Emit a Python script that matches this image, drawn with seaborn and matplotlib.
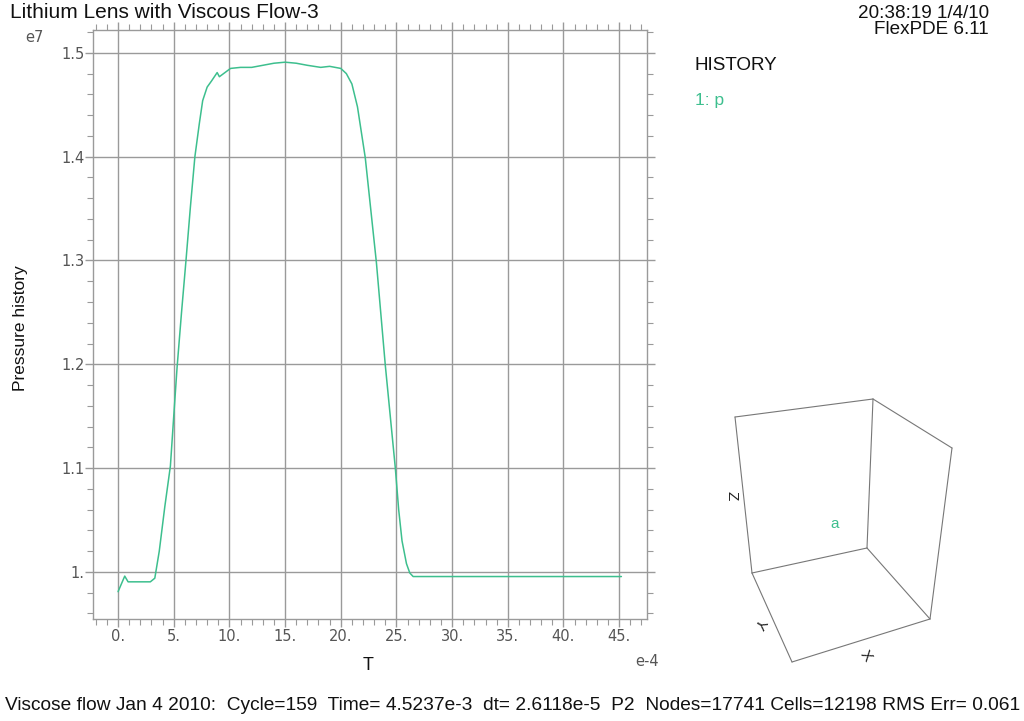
import numpy as np
import pandas as pd
import matplotlib
matplotlib.use("Agg")
import matplotlib.pyplot as plt
import seaborn as sns

# ---- data (T in units of 1e-4, p in units of 1e7) ----
t_vals = [0.0, 0.6, 0.9, 2.9, 3.3, 3.7, 4.2, 4.7, 5.0, 5.3, 5.7, 6.1, 6.5, 6.9,
          7.3, 7.6, 8.0, 8.4, 8.9, 9.1, 9.6, 10.1, 11.0, 12.0, 13.0, 14.0, 15.0,
          16.0, 17.0, 18.2, 19.0, 20.0, 20.5, 21.0, 21.5, 21.9, 22.2, 23.2, 24.0,
          24.9, 25.2, 25.5, 25.9, 26.2, 26.5, 30.0, 35.0, 40.0, 45.2]
p_vals = [0.981, 0.996, 0.9905, 0.9905, 0.994, 1.020, 1.063, 1.102, 1.150, 1.197,
          1.250, 1.300, 1.352, 1.400, 1.432, 1.454, 1.467, 1.473, 1.481, 1.477,
          1.481, 1.485, 1.486, 1.486, 1.488, 1.490, 1.491, 1.490, 1.488, 1.486,
          1.487, 1.485, 1.480, 1.470, 1.448, 1.420, 1.399, 1.298, 1.199, 1.100,
          1.060, 1.030, 1.008, 0.999, 0.9956, 0.9956, 0.9956, 0.9956, 0.9956]
x_ticks = [0, 5, 10, 15, 20, 25, 30, 35, 40, 45]
x_tick_labels = ["0.", "5.", "10.", "15.", "20.", "25.", "30.", "35.", "40.", "45."]
y_ticks = [1.0, 1.1, 1.2, 1.3, 1.4, 1.5]
y_tick_labels = ["1.", "1.1", "1.2", "1.3", "1.4", "1.5"]

title = "Lithium Lens with Viscous Flow-3"
footer = ("Viscose flow Jan 4 2010:  Cycle=159  Time= 4.5237e-3  dt= 2.6118e-5  P2  "
          "Nodes=17741 Cells=12198 RMS Err= 0.061")

# decorative 3D orientation box (figure pixel coordinates)
box_pts = {"A": (735, 417), "B": (873, 399), "C": (952, 448), "D": (752, 573),
           "E": (867, 548), "F": (930, 619), "G": (792, 662)}
box_edges = [("A", "B"), ("B", "C"), ("A", "D"), ("B", "E"), ("C", "F"),
             ("D", "E"), ("E", "F"), ("D", "G"), ("G", "F")]

GREEN = "#3dbf8e"
GRID = "#9a9a9a"

sns.set_style("white")
plt.rcParams["font.family"] = ["Liberation Sans", "DejaVu Sans"]

W, H = 1024, 721
fig = plt.figure(figsize=(W / 100, H / 100), dpi=100)
fig.patch.set_facecolor("white")

L, R, T, B = 93, 647, 30, 619
ax = fig.add_axes([L / W, 1 - B / H, (R - L) / W, (B - T) / H])

df = pd.DataFrame({"T": t_vals, "p": p_vals})
sns.lineplot(data=df, x="T", y="p", ax=ax, color=GREEN, linewidth=1.1,
             sort=False, estimator=None, zorder=3)

ax.set_xlim(-2.25, 47.5)
ax.set_ylim(0.9547, 1.522)
ax.set_xticks(x_ticks)
ax.set_xticklabels(x_tick_labels)
ax.set_yticks(y_ticks)
ax.set_yticklabels(y_tick_labels)
ax.set_xticks(np.arange(-2, 48, 1), minor=True)
ax.set_yticks(np.arange(0.96, 1.52, 0.02), minor=True)
ax.grid(True, which="major", color=GRID, linewidth=1.0)
ax.set_axisbelow(True)
for s in ax.spines.values():
    s.set_color(GRID)
    s.set_linewidth(1.0)
ax.tick_params(which="both", direction="out", color=GRID, top=True, right=True,
               bottom=True, left=True)
ax.tick_params(which="major", length=6, width=1.0)
ax.tick_params(which="minor", length=4, width=0.8)
ax.tick_params(axis="x", which="major", pad=1)
ax.tick_params(axis="y", which="major", pad=0)
for lab in ax.get_xticklabels() + ax.get_yticklabels():
    lab.set_fontfamily("DejaVu Sans")
    lab.set_fontsize(10.5)
    lab.set_color("#555555")
ax.set_xlabel("")
ax.set_ylabel("")


def ftext(x, y, s, **kw):
    fig.text(x / W, 1 - y / H, s, **kw)


ftext(10, 12, title, fontsize=15, ha="left", va="center", color="#111111")
ftext(34, 38, "e7", fontsize=10.5, ha="center", va="center", color="#555555",
      family="DejaVu Sans")
ftext(647, 662, "e-4", fontsize=10.5, ha="center", va="center", color="#555555",
      family="DejaVu Sans")
ftext(368, 666, "T", fontsize=13, ha="center", va="center", color="#111111")
ftext(21, 328, "Pressure history", fontsize=12.5, rotation=90, ha="center",
      va="center", color="#111111")
ftext(989, 13, "20:38:19 1/4/10", fontsize=13.6, ha="right", va="center", color="#111111")
ftext(989, 29, "FlexPDE 6.11", fontsize=13.6, ha="right", va="center", color="#111111")
ftext(695, 65, "HISTORY", fontsize=13.6, ha="left", va="center", color="#111111")
ftext(695, 101, "1: p", fontsize=12.5, ha="left", va="center", color=GREEN)
ftext(5, 705, footer, fontsize=13.8, ha="left", va="center", color="#111111")

# overlay for the orientation box
ov = fig.add_axes([0, 0, 1, 1], facecolor="none")
ov.set_xlim(0, W)
ov.set_ylim(H, 0)
ov.axis("off")
for a, b in box_edges:
    (x0, y0), (x1, y1) = box_pts[a], box_pts[b]
    ov.plot([x0, x1], [y0, y1], color="#777777", linewidth=0.8)
ov.text(731, 496, "Z", rotation=-90, fontsize=11, ha="center", va="center", color="#222222")
ov.text(760, 623, "Y", rotation=-120, fontsize=11, ha="center", va="center", color="#222222")
ov.text(866, 656, "X", rotation=-55, fontsize=11, ha="center", va="center", color="#222222")
ov.text(835, 524, "a", fontsize=11, ha="center", va="center", color=GREEN)

fig.savefig("out.png", dpi=100, facecolor="white")
